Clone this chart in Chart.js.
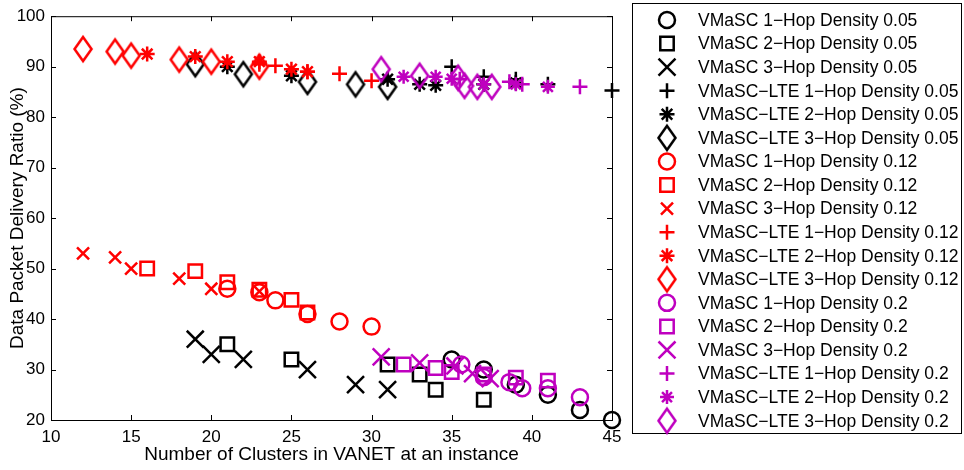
<!DOCTYPE html>
<html lang="en">
<head>
  <meta charset="UTF-8">
  <title>Data Packet Delivery Ratio</title>
  <script src="https://cdn.jsdelivr.net/npm/chart.js"></script>
  <style>
    html, body {
      margin: 0;
      padding: 0;
      background: #fff;
    }
    #wrap {
      width: 964px;
      height: 470px;
    }
  </style>
</head>
<body>

  <div id="wrap"><canvas id="grafico" width="964" height="470"></canvas></div>

  <script>
    // density 0.05
    const vmasc1hop005 = [[35, 32], [37, 30], [39, 27], [41, 25], [43, 22], [45, 20]];
    const vmasc2hop005 = [[21, 35], [25, 32], [31, 31], [33, 29], [34, 26], [37, 24]];
    const vmasc3hop005 = [[19, 36], [20, 33], [22, 32], [26, 30], [29, 27], [31, 26]];
    const lte1hop005 = [[35, 90], [37, 88], [39, 87.5], [41, 86.5], [45, 85.3]];
    const lte2hop005 = [[21, 90], [25, 88.2], [31, 87.5], [33, 86.5], [34, 86.3], [37, 86.5], [39, 86.8]];
    const lte3hop005 = [[19, 90.5], [22, 88.5], [26, 87], [29, 86.5], [31, 86]];

    // density 0.12
    const vmasc1hop012 = [[21, 46], [23, 45.3], [24, 43.7], [26, 41], [28, 39.5], [30, 38.5]];
    const vmasc2hop012 = [[16, 50], [19, 49.5], [21, 47.3], [23, 45.8], [25, 43.8], [26, 41.3]];
    const vmasc3hop012 = [[12, 53], [14, 52.2], [15, 50], [18, 48], [20, 46], [23, 45.5]];
    const lte1hop012 = [[23, 90.5], [24, 90.2], [26, 89], [28, 88.6], [30, 87.2]];
    const lte2hop012 = [[16, 92.5], [19, 92], [21, 91], [23, 91], [25, 89.5], [26, 89]];
    const lte3hop012 = [[12, 93.5], [14, 93], [15, 92.2], [18, 91.4], [20, 91], [23, 90]];

    // density 0.2
    const vmasc1hop02 = [[35.6, 31], [37, 28.5], [38.6, 27.5], [39.4, 26.3], [41, 26.3], [43, 24.5]];
    const vmasc2hop02 = [[32, 31], [34, 30.3], [35, 29.5], [37, 29], [39, 28.4], [41, 27.8]];
    const vmasc3hop02 = [[30.6, 32.5], [33, 31.3], [35.2, 30.7], [36.3, 29.2], [37.4, 28.2]];
    const lte1hop02 = [[35.5, 87.5], [38.6, 87], [39.4, 86.5], [43, 86]];
    const lte2hop02 = [[32, 88], [34, 88], [35, 87.6], [37, 86.5], [39, 86.5], [41, 86]];
    const lte3hop02 = [[30.6, 89.5], [33, 88.2], [35.4, 87.8], [35.8, 86.2], [36.6, 86], [37.5, 86]];

    const xTicks = [10, 15, 20, 25, 30, 35, 40, 45];
    const yTicks = [20, 30, 40, 50, 60, 70, 80, 90, 100];

    const FAMILY = '"Liberation Sans", Arial, sans-serif';
    const TICK_FONT = { family: FAMILY, size: 17 };
    const TITLE_FONT = { family: FAMILY, size: 19 };
    const LEGEND_SIZE = 17.5;
    const LW = 2.5;

    // tall diamond like the matlab 'd' marker
    function diamond(color) {
      const c = document.createElement('canvas');
      c.width = 22;
      c.height = 30;
      const g = c.getContext('2d');
      g.strokeStyle = color;
      g.lineWidth = LW;
      g.lineJoin = 'miter';
      g.beginPath();
      g.moveTo(11, 3);
      g.lineTo(19.5, 15);
      g.lineTo(11, 27);
      g.lineTo(2.5, 15);
      g.closePath();
      g.stroke();
      return c;
    }

    function series(label, data, color, style, radius) {
      return { label, data, color, style, radius };
    }

    const K = '#000000', R = '#ff0000', M = '#bf00bf';

    const allSeries = [
      series('VMaSC 1\u2212Hop Density 0.05', vmasc1hop005, K, 'circle', 8),
      series('VMaSC 2\u2212Hop Density 0.05', vmasc2hop005, K, 'rect', 9.5),
      series('VMaSC 3\u2212Hop Density 0.05', vmasc3hop005, K, 'crossRot', 12),
      series('VMaSC\u2212LTE 1\u2212Hop Density 0.05', lte1hop005, K, 'cross', 7.5),
      series('VMaSC\u2212LTE 2\u2212Hop Density 0.05', lte2hop005, K, 'star', 7.5),
      series('VMaSC\u2212LTE 3\u2212Hop Density 0.05', lte3hop005, K, diamond(K), 10),
      series('VMaSC 1\u2212Hop Density 0.12', vmasc1hop012, R, 'circle', 8),
      series('VMaSC 2\u2212Hop Density 0.12', vmasc2hop012, R, 'rect', 9.5),
      series('VMaSC 3\u2212Hop Density 0.12', vmasc3hop012, R, 'crossRot', 8.5),
      series('VMaSC\u2212LTE 1\u2212Hop Density 0.12', lte1hop012, R, 'cross', 7.5),
      series('VMaSC\u2212LTE 2\u2212Hop Density 0.12', lte2hop012, R, 'star', 7.5),
      series('VMaSC\u2212LTE 3\u2212Hop Density 0.12', lte3hop012, R, diamond(R), 10),
      series('VMaSC 1\u2212Hop Density 0.2', vmasc1hop02, M, 'circle', 8),
      series('VMaSC 2\u2212Hop Density 0.2', vmasc2hop02, M, 'rect', 9.5),
      series('VMaSC 3\u2212Hop Density 0.2', vmasc3hop02, M, 'crossRot', 12),
      series('VMaSC\u2212LTE 1\u2212Hop Density 0.2', lte1hop02, M, 'cross', 7.5),
      series('VMaSC\u2212LTE 2\u2212Hop Density 0.2', lte2hop02, M, 'star', 7),
      series('VMaSC\u2212LTE 3\u2212Hop Density 0.2', lte3hop02, M, diamond(M), 10)
    ];

    const datasets = allSeries.map((s, i) => ({
      label: s.label,
      data: s.data.map(p => ({ x: p[0], y: p[1] })),
      pointStyle: s.style,
      pointRadius: s.radius,
      pointHoverRadius: s.radius,
      pointBorderColor: s.color,
      pointBackgroundColor: 'rgba(0,0,0,0)',
      pointBorderWidth: LW,
      pointHoverBorderWidth: LW,
      showLine: false,
      clip: false,
      order: -i   // later series on top
    }));

    // box, inward ticks and the legend panel
    const framePlugin = {
      id: 'frame',
      beforeDatasetsDraw(chart) {
        const { ctx, chartArea: a, scales } = chart;
        ctx.save();
        ctx.strokeStyle = '#000';
        ctx.lineWidth = 1;
        ctx.strokeRect(a.left + 0.5, a.top + 0.5, a.right - a.left, a.bottom - a.top);
        ctx.beginPath();
        xTicks.forEach(v => {
          const px = Math.round(scales.x.getPixelForValue(v)) + 0.5;
          ctx.moveTo(px, a.bottom);
          ctx.lineTo(px, a.bottom - 5);
          ctx.moveTo(px, a.top);
          ctx.lineTo(px, a.top + 5);
        });
        yTicks.forEach(v => {
          const py = Math.round(scales.y.getPixelForValue(v)) + 0.5;
          ctx.moveTo(a.left, py);
          ctx.lineTo(a.left + 5, py);
          ctx.moveTo(a.right, py);
          ctx.lineTo(a.right - 5, py);
        });
        ctx.stroke();
        ctx.restore();
      },
      afterDraw(chart) {
        const ctx = chart.ctx;
        ctx.save();
        ctx.strokeStyle = '#000';
        ctx.lineWidth = 1;
        ctx.fillStyle = '#fff';
        ctx.fillRect(632.5, 3.5, 329, 430);
        ctx.strokeRect(632.5, 3.5, 329, 430);

        ctx.font = LEGEND_SIZE + 'px ' + FAMILY;
        ctx.textBaseline = 'middle';
        allSeries.forEach((s, i) => {
          const y = 20 + i * 23.57;
          ctx.strokeStyle = s.color;
          ctx.lineWidth = LW;
          ctx.fillStyle = 'rgba(0,0,0,0)';
          Chart.helpers.drawPoint(ctx, {
            pointStyle: s.style,
            radius: s.radius,
            rotation: 0,
            borderWidth: LW
          }, 667, y);
          ctx.fillStyle = '#000';
          ctx.fillText(s.label, 698, y + 1);
        });
        ctx.restore();
      }
    };

    const ctx = document.getElementById('grafico').getContext('2d');

    new Chart(ctx, {
      type: 'scatter',
      data: { datasets },
      options: {
        responsive: false,
        animation: false,
        events: [],
        layout: { padding: { left: 0, top: 12, right: 352, bottom: 0 } },
        plugins: {
          legend: { display: false },
          tooltip: { enabled: false }
        },
        scales: {
          x: {
            type: 'linear',
            min: 10,
            max: 45,
            afterBuildTicks: s => { s.ticks = xTicks.map(v => ({ value: v })); },
            afterFit: s => { s.height = 50; },
            ticks: { color: '#000', font: TICK_FONT, padding: 7, maxRotation: 0, autoSkip: false },
            grid: { display: false, drawTicks: false },
            border: { display: true, color: '#000', width: 1 },
            title: {
              display: true,
              text: 'Number of Clusters in VANET at an instance',
              color: '#000',
              font: TITLE_FONT,
              padding: { top: 0, bottom: 4 }
            }
          },
          y: {
            type: 'linear',
            min: 20,
            max: 100,
            afterBuildTicks: s => { s.ticks = yTicks.map(v => ({ value: v })); },
            afterFit: s => { s.width = 51; },
            ticks: { color: '#000', font: TICK_FONT, padding: 6, autoSkip: false },
            grid: { display: false, drawTicks: false },
            border: { display: true, color: '#000', width: 1 },
            title: {
              display: true,
              text: 'Data Packet Delivery Ratio (%)',
              color: '#000',
              font: TITLE_FONT,
              padding: { top: 6, bottom: 0 }
            }
          }
        }
      },
      plugins: [framePlugin]
    });
  </script>

</body>
</html>
